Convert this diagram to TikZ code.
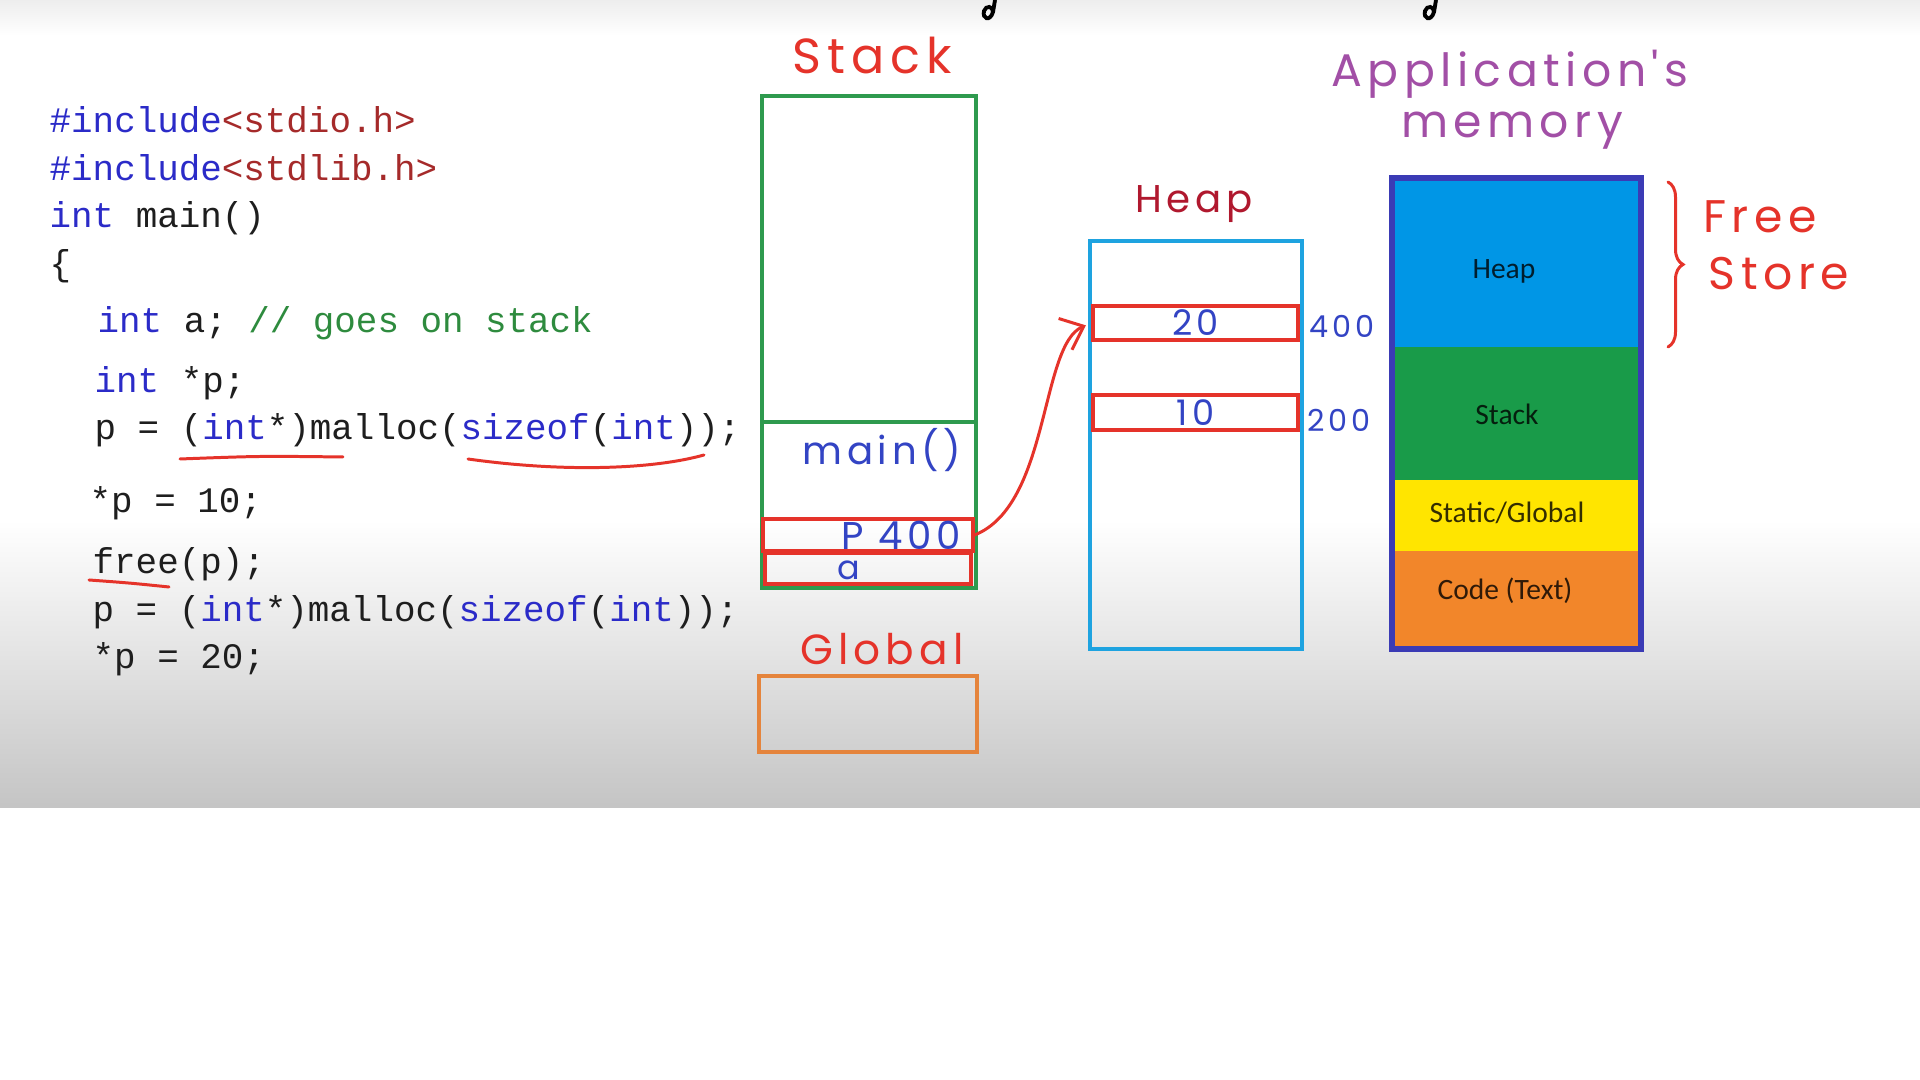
\documentclass[tikz,border=0pt]{standalone}
\usepackage{fontspec}
\usetikzlibrary{arrows.meta,positioning,decorations.pathreplacing}
\newfontfamily\codefont{Liberation Mono}
\newfontfamily\handfont{Poppins}[LetterSpace=12]
\newfontfamily\labelfont{Carlito}
\definecolor{kw}{HTML}{2B2BC8}
\definecolor{str}{HTML}{A52A2A}
\definecolor{cmt}{HTML}{2E8B3E}
\definecolor{plain}{HTML}{1E1E1E}
\definecolor{pen}{HTML}{E5332A}
\definecolor{penblue}{HTML}{3344C4}
\definecolor{penmaroon}{HTML}{B0182E}
\definecolor{penpurple}{HTML}{A24FA6}
\definecolor{stk}{HTML}{2E9A4E}
\definecolor{hp}{HTML}{1EA3E0}
\definecolor{glb}{HTML}{E5843C}
\definecolor{memheap}{HTML}{0096E6}
\definecolor{memstack}{HTML}{199B49}
\definecolor{memglob}{HTML}{FFE500}
\definecolor{memcode}{HTML}{F2862A}
\definecolor{memedge}{HTML}{3B3BB5}
\newcommand\kwd[1]{\textcolor{kw}{#1}}

\begin{document}
\begin{tikzpicture}[
    x=0.01cm, y=-0.01cm,
    code/.style={anchor=base west,inner sep=0pt,text=plain,font=\codefont\fontsize{10.2pt}{12pt}\selectfont},
    hand/.style={inner sep=0pt,font=\handfont\fontsize{#1}{#1}\selectfont},
    pen/.style={draw=pen,line width=0.85pt,line cap=round},
    cell/.style={rectangle,draw=pen,line width=0.9pt,inner sep=0pt},
    stkbox/.style={rectangle,draw=stk,line width=1pt,inner sep=0pt},
    heapbox/.style={rectangle,draw=hp,line width=1pt,inner sep=0pt},
    globbox/.style={rectangle,draw=glb,line width=0.9pt,inner sep=0pt},
    memtxt/.style={inner sep=0pt,text=black,text opacity=0.8,font=\labelfont\fontsize{8.4pt}{10pt}\selectfont},
    arr/.style={pen,-{Straight Barb[length=0.2cm,width=0.34cm]}}
]
\useasboundingbox (0,0) rectangle (1920,1080);
% background
\fill[white] (0,0) rectangle (1920,1080);
\shade[top color=black!7,bottom color=white] (0,0) rectangle (1920,35);
\shade[top color=white,bottom color=black!23] (0,520) rectangle (1920,808);
\draw[line width=1.1pt] (995,0) -- (993,12) .. controls (990,22) and (982,19) .. (984,11) .. controls (986,5) and (993,6) .. (993,12);
\draw[line width=1.1pt] (1436,0) -- (1434,12) .. controls (1431,22) and (1423,19) .. (1425,11) .. controls (1427,5) and (1434,6) .. (1434,12);

% code
\node[code] (inc1) at (49,133) {\kwd{\#include}\textcolor{str}{<stdio.h>}};
\node[code] (inc2) at (49,181) {\kwd{\#include}\textcolor{str}{<stdlib.h>}};
\node[code] (mainfn) at (49,228) {\kwd{int} main()};
\node[code] (lbrace) at (49,276) {\{};
\node[code] (decla) at (97,333) {\kwd{int} a; \textcolor{cmt}{// goes on stack}};
\node[code] (declp) at (94,393) {\kwd{int} *p;};
\node[code] (alloc1) at (94,440) {p = (\kwd{int}*)malloc(\kwd{sizeof}(\kwd{int}));};
\node[code] (set10) at (89,513) {*p = 10;};
\node[code] (freep) at (92,574) {free(p);};
\node[code] (alloc2) at (92,622) {p = (\kwd{int}*)malloc(\kwd{sizeof}(\kwd{int}));};
\node[code] (set20) at (92,669) {*p = 20;};

\draw[pen] (180,459) .. controls (260,456) .. (343,457);
\draw[pen] (468,459) .. controls (560,472) and (650,470) .. (704,455);
\draw[pen] (89,580) .. controls (130,583) .. (169,587);

% stack
\node[hand=14pt,text=pen] (stacktitle) at (872,56) {Stack};
\node[stkbox,minimum width=2.14cm,minimum height=4.92cm] (stack) at (869,342) {};
\draw[stk,line width=1pt] (stack.west |- 0,422) -- (stack.east |- 0,422);
\node[hand=11pt,text=penblue] (mainlbl) at (882,450) {main()};
\node[cell,minimum width=2.10cm,minimum height=0.32cm] (pcell) at (868,535) {};
\node[cell,line width=1.2pt,minimum width=2.06cm,minimum height=0.31cm] (acell) at (868,568.5) {};
\node[hand=11pt,text=penblue] (plbl) at (901,535) {P 400};
\node[hand=9.5pt,text=penblue] (albl) at (849,570) {a};

\node[hand=12pt,text=pen] (globtitle) at (882,649) {Global};
\node[globbox,minimum width=2.18cm,minimum height=0.76cm] (glob) at (868,714) {};

% heap
\node[hand=11pt,text=penmaroon] (heaptitle) at (1194,204) {Heap};
\node[heapbox,minimum width=2.12cm,minimum height=4.08cm] (heap) at (1196,445) {};
\node[cell,minimum width=2.05cm,minimum height=0.34cm,hand=10pt,text=penblue] (c20) at (1195.5,323) {20};
\node[cell,minimum width=2.05cm,minimum height=0.35cm,hand=10pt,text=penblue] (c10) at (1195.5,412.5) {10};
\node[hand=8.6pt,text=penblue] (a400) at (1342,326) {400};
\node[hand=8.6pt,text=penblue] (a200) at (1339,420) {200};

\draw[arr,shorten >=0.06cm] (pcell.east) .. controls (1050,505) and (1040,345) .. (c20.west);

% application's memory
\node[hand=13pt,text=penpurple] (apptitle) at (1510,74) {Application's};
\node[hand=13pt,text=penpurple] (memtitle) at (1512,131) {memory};
\fill[memheap] (1392,178) rectangle (1641,347);
\fill[memstack] (1392,347) rectangle (1641,480);
\fill[memglob] (1392,480) rectangle (1641,551);
\fill[memcode] (1392,551) rectangle (1641,649);
\node[rectangle,draw=memedge,line width=1.7pt,inner sep=0pt,minimum width=2.49cm,minimum height=4.71cm] (mem) at (1516.5,413.5) {};
\node[memtxt] (mheap) at (1504,271) {Heap};
\node[memtxt] (mstack) at (1507,414) {Stack};
\node[memtxt] (mglob) at (1507,513) {Static/Global};
\node[memtxt] (mcode) at (1505,591) {Code (Text)};

\coordinate (fstop) at (1668,182);
\coordinate (fsbot) at (1668,347);
\draw[pen,decorate,decoration={brace,amplitude=0.15cm}] (fstop) -- (fsbot);
\node[hand=13pt,text=pen] (freelbl) at (1760,217) {Free};
\node[hand=13pt,text=pen] (storelbl) at (1779,274) {Store};
\end{tikzpicture}
\end{document}
